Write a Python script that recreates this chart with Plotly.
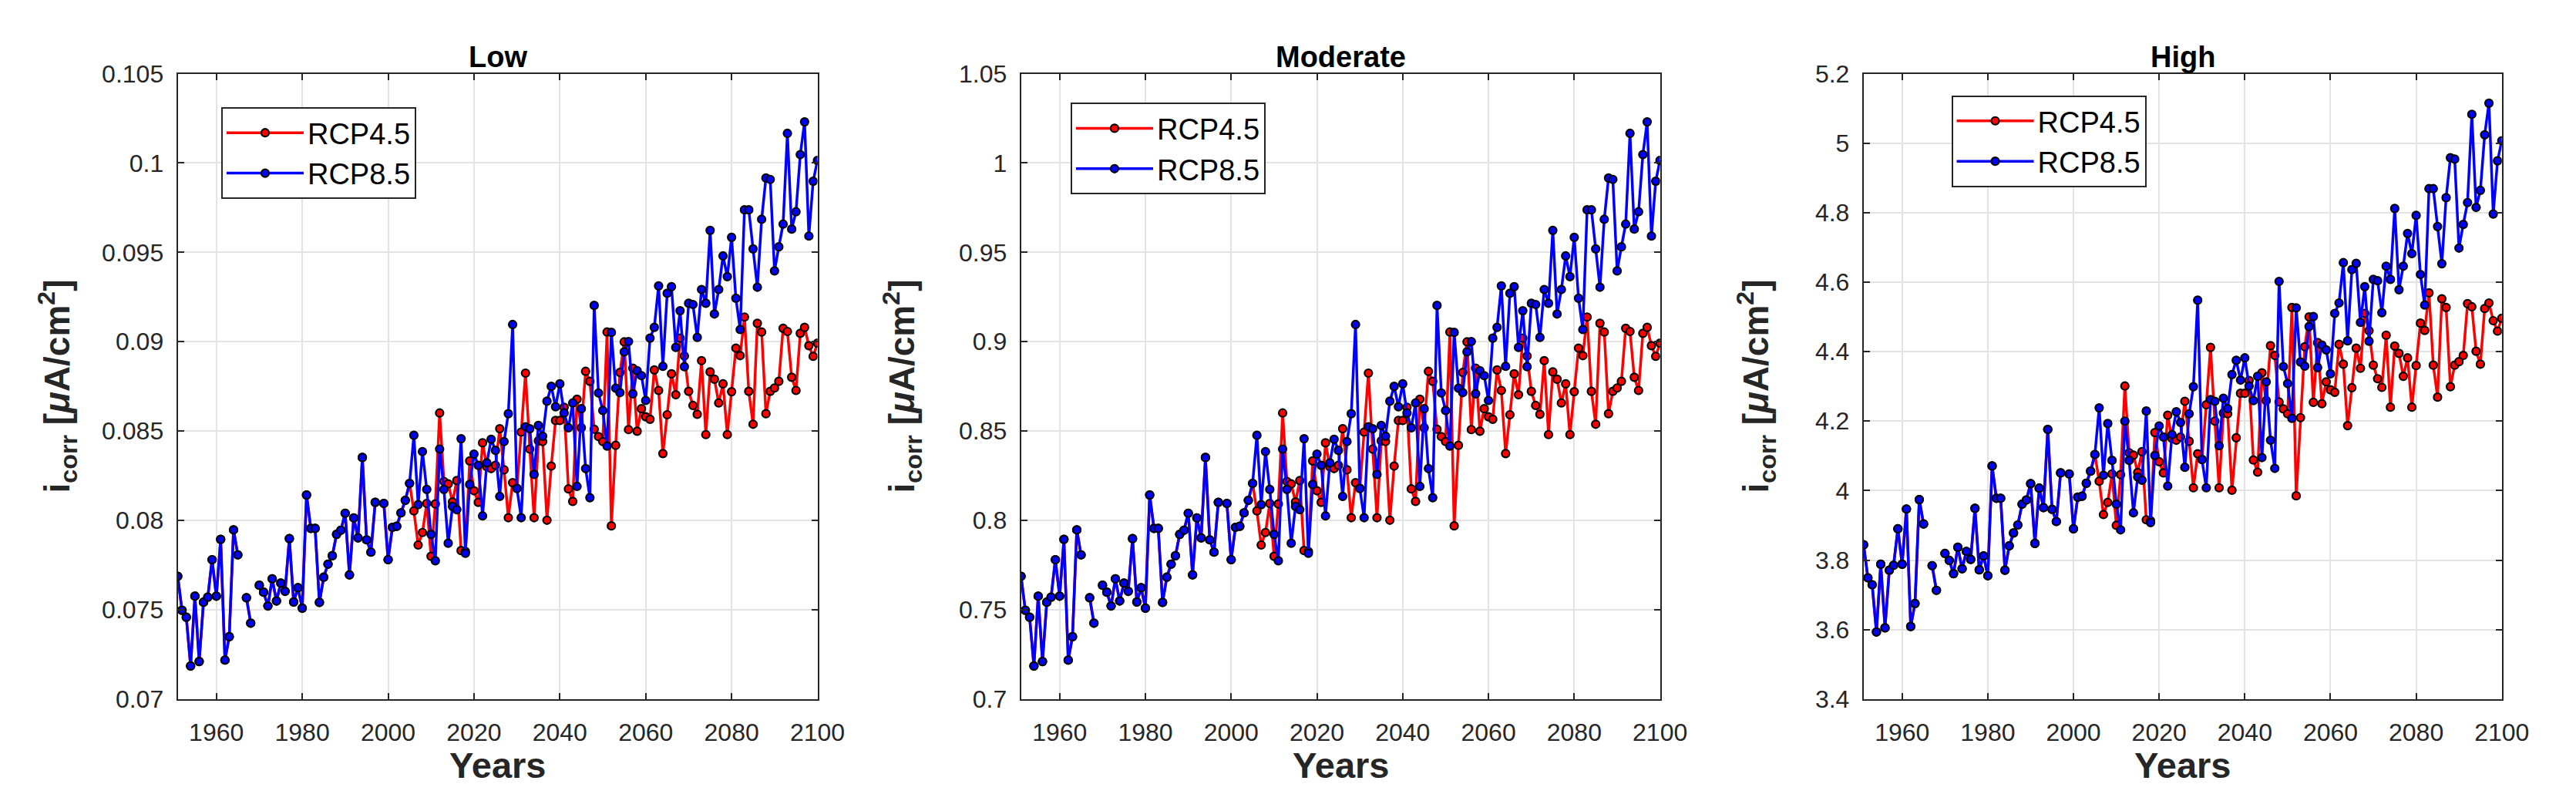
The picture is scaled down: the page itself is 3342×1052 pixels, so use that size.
import plotly.graph_objects as go

# ---------------- data ----------------
years_hist = list(range(1951, 2006))
years_proj = list(range(2006, 2101))

hist_low = [0.07687, 0.07497, 0.07458, 0.07185, 0.07576, 0.07210, 0.07542, 0.07570, 0.07780, 0.07576,
            0.07894, 0.07218, 0.07349, 0.07947, 0.07807, None, 0.07567, 0.07425, None, 0.07637,
            0.07598, 0.07521, 0.07673, 0.07549, 0.07649, 0.07603, 0.07898, 0.07543, 0.07623, 0.07509,
            0.08142, 0.07955, 0.07955, 0.07541, 0.07682, 0.07755, 0.07802, 0.07922, 0.07945, 0.08040,
            0.07695, 0.08014, 0.07902, 0.08352, 0.07891, 0.07822, 0.08101, None, 0.08095, 0.07780,
            0.07961, 0.07967, 0.08042, 0.08112, 0.08207]
rcp45_low = [0.08053, 0.07862, 0.07932, 0.08095, 0.07799, 0.08092, 0.08601, 0.08218, 0.08204, 0.08103,
             0.08223, 0.07831, 0.07826, 0.08333, 0.08166, 0.08101, 0.08434, 0.08300, 0.08290, 0.08308,
             0.08513, 0.08283, 0.08015, 0.08211, 0.08180, 0.08494, 0.08824, 0.08399, 0.08015, 0.08445,
             0.08441, 0.08001, 0.08304, 0.08559, 0.08559, 0.08633, 0.08176, 0.08106, 0.08678, 0.08518,
             0.08834, 0.08778, 0.08510, 0.08469, 0.08441, 0.09054, 0.07969, 0.08420, 0.08828, 0.08999,
             0.08508, 0.08852, 0.08499, 0.08625, 0.08580, 0.08566, 0.08842, 0.08727, 0.08374, 0.08591,
             0.08820, 0.08703, 0.09020, 0.08920, 0.08722, 0.08643, 0.08594, 0.08894, 0.08480, 0.08831,
             0.08790, 0.08657, 0.08764, 0.08480, 0.08720, 0.08964, 0.08922, 0.09138, 0.08722, 0.08538,
             0.09103, 0.09054, 0.08597, 0.08722, 0.08741, 0.08778, 0.09075, 0.09057, 0.08801, 0.08727,
             0.09047, 0.09080, 0.08978, 0.08918, 0.08992]
rcp85_low = [0.08476, 0.08088, 0.08385, 0.08173, 0.07922, 0.07774, 0.08399, 0.08173, 0.07872, 0.08078,
             0.08060, 0.08457, 0.07816, 0.08201, 0.08371, 0.08308, 0.08025, 0.08322, 0.08454, 0.08392,
             0.08134, 0.08441, 0.08597, 0.09096, 0.08178, 0.08015, 0.08524, 0.08513, 0.08257, 0.08531,
             0.08471, 0.08667, 0.08750, 0.08636, 0.08764, 0.08601, 0.08518, 0.08657, 0.08190, 0.08625,
             0.08290, 0.08127, 0.09203, 0.08713, 0.08615, 0.08416, 0.09052, 0.08740, 0.08715, 0.08943,
             0.09001, 0.08708, 0.08838, 0.08810, 0.08671, 0.09020, 0.09080, 0.09312, 0.08862, 0.09271,
             0.09308, 0.08968, 0.09173, 0.08860, 0.09215, 0.09208, 0.09024, 0.09292, 0.09215, 0.09623,
             0.09155, 0.09292, 0.09480, 0.09364, 0.09584, 0.09243, 0.09068, 0.09738, 0.09738, 0.09519,
             0.09305, 0.09685, 0.09916, 0.09908, 0.09396, 0.09531, 0.09658, 0.10166, 0.09630, 0.09727,
             0.10047, 0.10230, 0.09591, 0.09898, 0.10014]

hist_mod = [0.7687, 0.7497, 0.7458, 0.7185, 0.7576, 0.7210, 0.7542, 0.7570, 0.7780, 0.7576,
            0.7894, 0.7218, 0.7349, 0.7947, 0.7807, None, 0.7567, 0.7425, None, 0.7637,
            0.7598, 0.7521, 0.7673, 0.7549, 0.7649, 0.7603, 0.7898, 0.7543, 0.7623, 0.7509,
            0.8142, 0.7955, 0.7955, 0.7541, 0.7682, 0.7755, 0.7802, 0.7922, 0.7945, 0.8040,
            0.7695, 0.8014, 0.7902, 0.8352, 0.7891, 0.7822, 0.8101, None, 0.8095, 0.7780,
            0.7961, 0.7967, 0.8042, 0.8112, 0.8207]
rcp45_mod = [0.8053, 0.7862, 0.7932, 0.8095, 0.7799, 0.8092, 0.8601, 0.8218, 0.8204, 0.8103,
             0.8223, 0.7831, 0.7826, 0.8333, 0.8166, 0.8101, 0.8434, 0.8300, 0.8290, 0.8308,
             0.8513, 0.8283, 0.8015, 0.8211, 0.8180, 0.8494, 0.8824, 0.8399, 0.8015, 0.8445,
             0.8441, 0.8001, 0.8304, 0.8559, 0.8559, 0.8633, 0.8176, 0.8106, 0.8678, 0.8518,
             0.8834, 0.8778, 0.8510, 0.8469, 0.8441, 0.9054, 0.7969, 0.8420, 0.8828, 0.8999,
             0.8508, 0.8852, 0.8499, 0.8625, 0.8580, 0.8566, 0.8842, 0.8727, 0.8374, 0.8591,
             0.8820, 0.8703, 0.9020, 0.8920, 0.8722, 0.8643, 0.8594, 0.8894, 0.8480, 0.8831,
             0.8790, 0.8657, 0.8764, 0.8480, 0.8720, 0.8964, 0.8922, 0.9138, 0.8722, 0.8538,
             0.9103, 0.9054, 0.8597, 0.8722, 0.8741, 0.8778, 0.9075, 0.9057, 0.8801, 0.8727,
             0.9047, 0.9080, 0.8978, 0.8918, 0.8992]
rcp85_mod = [0.8476, 0.8088, 0.8385, 0.8173, 0.7922, 0.7774, 0.8399, 0.8173, 0.7872, 0.8078,
             0.8060, 0.8457, 0.7816, 0.8201, 0.8371, 0.8308, 0.8025, 0.8322, 0.8454, 0.8392,
             0.8134, 0.8441, 0.8597, 0.9096, 0.8178, 0.8015, 0.8524, 0.8513, 0.8257, 0.8531,
             0.8471, 0.8667, 0.8750, 0.8636, 0.8764, 0.8601, 0.8518, 0.8657, 0.8190, 0.8625,
             0.8290, 0.8127, 0.9203, 0.8713, 0.8615, 0.8416, 0.9052, 0.8740, 0.8715, 0.8943,
             0.9001, 0.8708, 0.8838, 0.8810, 0.8671, 0.9020, 0.9080, 0.9312, 0.8862, 0.9271,
             0.9308, 0.8968, 0.9173, 0.8860, 0.9215, 0.9208, 0.9024, 0.9292, 0.9215, 0.9623,
             0.9155, 0.9292, 0.9480, 0.9364, 0.9584, 0.9243, 0.9068, 0.9738, 0.9738, 0.9519,
             0.9305, 0.9685, 0.9916, 0.9908, 0.9396, 0.9531, 0.9658, 1.0166, 0.9630, 0.9727,
             1.0047, 1.0230, 0.9591, 0.9898, 1.0014]

hist_high = [3.844, 3.749, 3.729, 3.593, 3.788, 3.605, 3.771, 3.785, 3.890, 3.788,
             3.947, 3.609, 3.675, 3.974, 3.904, None, 3.784, 3.713, None, 3.819,
             3.799, 3.761, 3.837, 3.775, 3.825, 3.802, 3.949, 3.772, 3.812, 3.755,
             4.071, 3.978, 3.978, 3.771, 3.841, 3.878, 3.901, 3.961, 3.973, 4.020,
             3.848, 4.007, 3.951, 4.176, 3.946, 3.911, 4.051, None, 4.048, 3.890,
             3.981, 3.984, 4.021, 4.056, 4.104]
rcp45_high = [4.027, 3.931, 3.966, 4.048, 3.900, 4.046, 4.301, 4.109, 4.102, 4.052,
              4.112, 3.916, 3.913, 4.167, 4.083, 4.051, 4.217, 4.150, 4.145, 4.154,
              4.257, 4.142, 4.008, 4.106, 4.090, 4.247, 4.412, 4.200, 4.008, 4.223,
              4.221, 4.001, 4.152, 4.280, 4.280, 4.317, 4.088, 4.053, 4.339, 4.259,
              4.417, 4.389, 4.255, 4.235, 4.221, 4.527, 3.985, 4.210, 4.414, 4.500,
              4.254, 4.426, 4.250, 4.313, 4.290, 4.283, 4.421, 4.364, 4.187, 4.296,
              4.410, 4.352, 4.510, 4.460, 4.361, 4.322, 4.297, 4.447, 4.240, 4.416,
              4.395, 4.329, 4.382, 4.240, 4.360, 4.482, 4.461, 4.569, 4.361, 4.269,
              4.552, 4.527, 4.299, 4.361, 4.371, 4.389, 4.538, 4.529, 4.401, 4.364,
              4.524, 4.540, 4.489, 4.459, 4.496]
rcp85_high = [4.238, 4.044, 4.193, 4.087, 3.961, 3.887, 4.200, 4.087, 3.936, 4.039,
              4.030, 4.229, 3.908, 4.101, 4.186, 4.154, 4.013, 4.161, 4.227, 4.196,
              4.067, 4.221, 4.299, 4.548, 4.089, 4.008, 4.262, 4.257, 4.129, 4.266,
              4.236, 4.334, 4.375, 4.318, 4.382, 4.301, 4.259, 4.329, 4.095, 4.313,
              4.145, 4.064, 4.602, 4.357, 4.308, 4.208, 4.526, 4.370, 4.358, 4.472,
              4.501, 4.354, 4.419, 4.405, 4.336, 4.510, 4.540, 4.656, 4.431, 4.636,
              4.654, 4.484, 4.587, 4.430, 4.608, 4.604, 4.512, 4.646, 4.608, 4.812,
              4.578, 4.646, 4.740, 4.682, 4.792, 4.622, 4.534, 4.869, 4.869, 4.760,
              4.653, 4.843, 4.958, 4.954, 4.698, 4.766, 4.829, 5.083, 4.815, 4.864,
              5.024, 5.115, 4.796, 4.949, 5.007]

panel_titles = ["Low", "Moderate", "High"]
series_names = ["RCP4.5", "RCP8.5"]

x_tickvals = [1960, 1980, 2000, 2020, 2040, 2060, 2080, 2100]
x_ticktext = ["1960", "1980", "2000", "2020", "2040", "2060", "2080", "2100"]

low_tickvals = [0.07, 0.075, 0.08, 0.085, 0.09, 0.095, 0.1, 0.105]
low_ticktext = ["0.07", "0.075", "0.08", "0.085", "0.09", "0.095", "0.1", "0.105"]
mod_tickvals = [0.7, 0.75, 0.8, 0.85, 0.9, 0.95, 1.0, 1.05]
mod_ticktext = ["0.7", "0.75", "0.8", "0.85", "0.9", "0.95", "1", "1.05"]
high_tickvals = [3.4, 3.6, 3.8, 4.0, 4.2, 4.4, 4.6, 4.8, 5.0, 5.2]
high_ticktext = ["3.4", "3.6", "3.8", "4", "4.2", "4.4", "4.6", "4.8", "5", "5.2"]

# ---------------- figure ----------------
W, H = 3342, 1052
FONT = "Liberation Sans, Arial, sans-serif"
AX = "#262626"
GRID = "#e3e3e3"
RED = "#ff0000"
BLUE = "#0000ff"

panels = [
    dict(hist=hist_low, r45=rcp45_low, r85=rcp85_low, yr=[0.07, 0.105],
         tv=low_tickvals, tt=low_ticktext, px=(225, 1064), ylab_x=67, leg=(282, 117)),
    dict(hist=hist_mod, r45=rcp45_mod, r85=rcp85_mod, yr=[0.7, 1.05],
         tv=mod_tickvals, tt=mod_ticktext, px=(1331, 2169), ylab_x=1175, leg=(1396, 111)),
    dict(hist=hist_high, r45=rcp45_high, r85=rcp85_high, yr=[3.4, 5.2],
         tv=high_tickvals, tt=high_ticktext, px=(2436, 3273), ylab_x=2295, leg=(2551, 101)),
]

PLOT_TOP, PLOT_BOT = 72, 912
ydom = [1 - PLOT_BOT / H, 1 - PLOT_TOP / H]

fig = go.Figure()
annotations = []
layout_axes = {}

for i, p in enumerate(panels):
    n = "" if i == 0 else str(i + 1)
    xa, ya = "x" + n, "y" + n
    legname = "legend" + n
    xs = years_hist + years_proj
    for name, proj, col in [(series_names[0], p["r45"], RED), (series_names[1], p["r85"], BLUE)]:
        fig.add_trace(go.Scatter(
            x=xs, y=p["hist"] + proj, mode="lines+markers", name=name,
            line=dict(color=col, width=3.5),
            marker=dict(color=col, size=10, line=dict(color="black", width=2.2)),
            xaxis=xa, yaxis=ya, legend=legname, connectgaps=False,
        ))
    x0, x1 = p["px"]
    layout_axes["xaxis" + n] = dict(
        domain=[x0 / W, x1 / W], range=[1951, 2100], anchor=ya,
        tickvals=x_tickvals, ticktext=x_ticktext, ticks="inside", ticklen=8,
        tickcolor=AX, tickwidth=1.5, showline=True, linecolor=AX, linewidth=2,
        mirror="ticks", showgrid=True, gridcolor=GRID, gridwidth=1.5, zeroline=False,
        tickfont=dict(family=FONT, size=32, color=AX), ticklabelstandoff=14,
    )
    layout_axes["yaxis" + n] = dict(
        domain=ydom, range=p["yr"], anchor=xa,
        tickvals=p["tv"], ticktext=p["tt"], ticks="inside", ticklen=8,
        tickcolor=AX, tickwidth=1.5, showline=True, linecolor=AX, linewidth=2,
        mirror="ticks", showgrid=True, gridcolor=GRID, gridwidth=1.5, zeroline=False,
        tickfont=dict(family=FONT, size=32, color=AX), ticklabelstandoff=10,
    )
    lx, ly = p["leg"]
    layout_axes[legname] = dict(
        x=lx / W, y=1 - ly / H, xanchor="left", yanchor="top",
        bgcolor="white", bordercolor=AX, borderwidth=2,
        font=dict(family=FONT, size=38, color="black"), itemwidth=100,
        tracegroupgap=0,
    )
    cx = (x0 + x1) / 2 / W
    annotations.append(dict(text="<b>%s</b>" % panel_titles[i], x=cx, y=1 - 50 / H,
                            xref="paper", yref="paper", showarrow=False,
                            xanchor="center", yanchor="middle",
                            font=dict(family=FONT, size=38, color="black")))
    annotations.append(dict(text="<b>Years</b>", x=cx, y=1 - 1001 / H,
                            xref="paper", yref="paper", showarrow=False,
                            xanchor="center", yanchor="middle",
                            font=dict(family=FONT, size=47, color=AX)))
    annotations.append(dict(text="<b>i<sub>corr</sub> [<i>μ</i>A/cm<sup>2</sup>]</b>",
                            x=p["ylab_x"] / W, y=1 - 492 / H, textangle=-90,
                            xref="paper", yref="paper", showarrow=False,
                            xanchor="center", yanchor="middle",
                            font=dict(family=FONT, size=46, color=AX)))

fig.update_layout(
    width=W, height=H, margin=dict(l=0, r=0, t=0, b=0),
    paper_bgcolor="white", plot_bgcolor="white",
    annotations=annotations, **layout_axes,
)

fig.write_html("out.html")
